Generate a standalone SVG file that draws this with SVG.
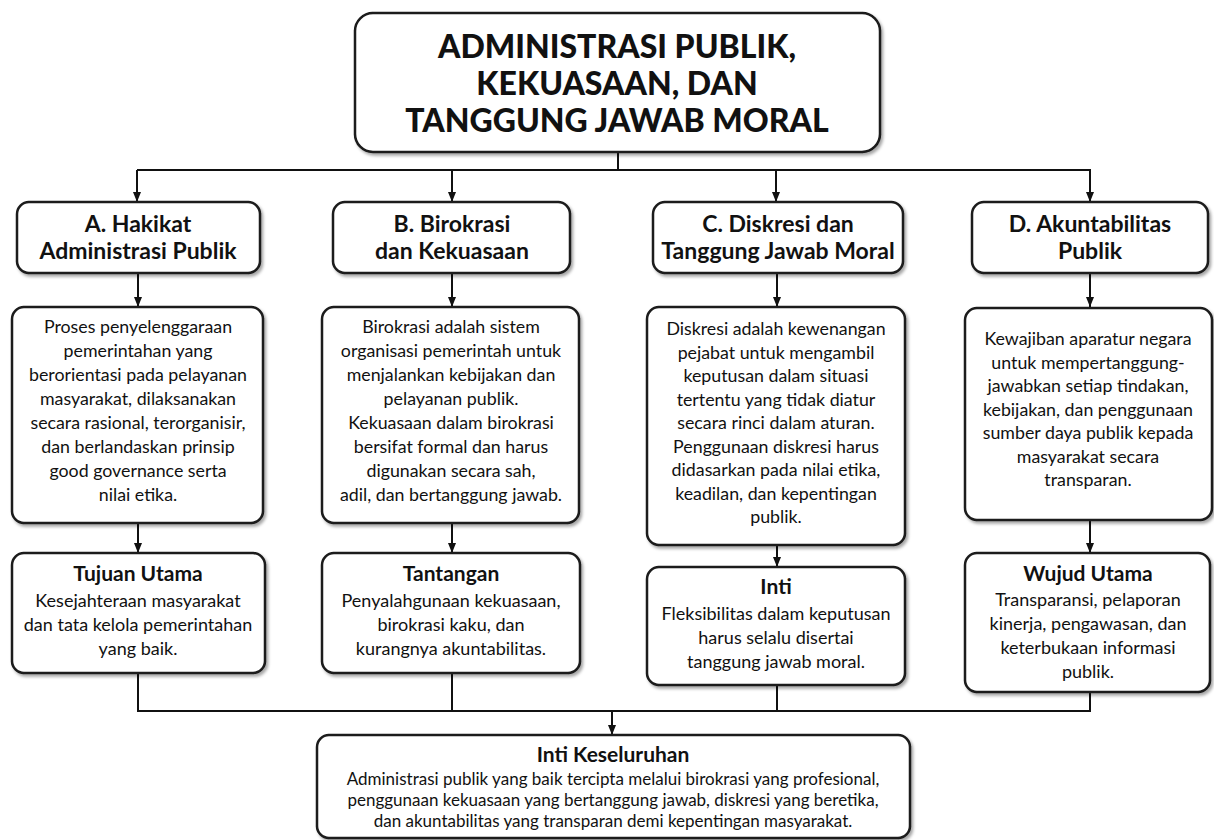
<svg xmlns="http://www.w3.org/2000/svg" width="1214" height="840" viewBox="0 0 1214 840">
<defs>
<filter id="sh" x="-5%" y="-5%" width="110%" height="115%">
<feDropShadow dx="2" dy="2.5" stdDeviation="1.5" flood-color="#000" flood-opacity="0.35"/>
</filter>
<marker id="ah" viewBox="0 0 10 10" refX="10" refY="5" markerWidth="10" markerHeight="10" markerUnits="userSpaceOnUse" orient="auto">
<path d="M0,1 L10,5 L0,9 z" fill="#111"/>
</marker>
<style>
.box{fill:#fff;stroke:#1a1a1a;stroke-width:2.5;filter:url(#sh)}
.ttl{font-family:Lato,"Liberation Sans",sans-serif;font-weight:900;font-size:32px;fill:#111;text-anchor:middle}
.hd{font-family:Lato,"Liberation Sans",sans-serif;font-weight:700;font-size:23px;fill:#111;text-anchor:middle}
.sh{font-family:Lato,"Liberation Sans",sans-serif;font-weight:700;font-size:21px;fill:#111;text-anchor:middle}
.tx{font-family:Lato,"Liberation Sans",sans-serif;font-size:17.8px;fill:#111;text-anchor:middle}
.tb{font-family:Lato,"Liberation Sans",sans-serif;font-size:18px;fill:#111;text-anchor:middle}
.ts{font-family:Lato,"Liberation Sans",sans-serif;font-size:17px;fill:#111;text-anchor:middle}
.ln{fill:none;stroke:#111;stroke-width:2}
.ar{fill:none;stroke:#111;stroke-width:2;marker-end:url(#ah)}
</style>
</defs>
<rect width="1214" height="840" fill="#fff"/>

<g id="connectors">
<path class="ln" d="M618,152 V170"/>
<path class="ln" d="M137,170 H1091"/>
<path class="ar" d="M137,170 V202"/>
<path class="ar" d="M452,170 V202"/>
<path class="ar" d="M776,170 V202"/>
<path class="ar" d="M1090,170 V202"/>
<path class="ar" d="M138,273 V307"/>
<path class="ar" d="M452,273 V307"/>
<path class="ar" d="M777,273 V307"/>
<path class="ar" d="M1090,273 V307"/>
<path class="ar" d="M138,523 V553"/>
<path class="ar" d="M452,523 V553"/>
<path class="ar" d="M777,545 V567"/>
<path class="ar" d="M1090,520 V553"/>
<path class="ln" d="M138,673 V711"/>
<path class="ln" d="M452,673 V711"/>
<path class="ln" d="M777,685 V711"/>
<path class="ln" d="M1090,692 V711"/>
<path class="ln" d="M137,711 H1091"/>
<path class="ar" d="M612,711 V735"/>
</g>

<g id="title">
<rect class="box" x="355" y="13" width="525" height="139" rx="18"/>
<text class="ttl" x="617" y="58">ADMINISTRASI PUBLIK,</text>
<text class="ttl" x="617" y="95">KEKUASAAN, DAN</text>
<text class="ttl" x="617" y="132">TANGGUNG JAWAB MORAL</text>
</g>

<g id="headerA">
<rect class="box" x="17" y="202" width="243" height="71" rx="12"/>
<text class="hd" x="138" y="232">A. Hakikat</text>
<text class="hd" x="138" y="259">Administrasi Publik</text>
</g>
<g id="headerB">
<rect class="box" x="333" y="202" width="237" height="71" rx="12"/>
<text class="hd" x="452" y="232">B. Birokrasi</text>
<text class="hd" x="452" y="259">dan Kekuasaan</text>
</g>
<g id="headerC">
<rect class="box" x="653" y="202" width="250" height="71" rx="12"/>
<text class="hd" x="778" y="232">C. Diskresi dan</text>
<text class="hd" x="778" y="259">Tanggung Jawab Moral</text>
</g>
<g id="headerD">
<rect class="box" x="972" y="202" width="236" height="71" rx="12"/>
<text class="hd" x="1090" y="232">D. Akuntabilitas</text>
<text class="hd" x="1090" y="259">Publik</text>
</g>

<g id="bodyA">
<rect class="box" x="12" y="307" width="251" height="216" rx="12"/>
<text class="tx" x="138" y="333">Proses penyelenggaraan</text>
<text class="tx" x="138" y="357">pemerintahan yang</text>
<text class="tx" x="138" y="381">berorientasi pada pelayanan</text>
<text class="tx" x="138" y="405">masyarakat, dilaksanakan</text>
<text class="tx" x="138" y="429">secara rasional, terorganisir,</text>
<text class="tx" x="138" y="453">dan berlandaskan prinsip</text>
<text class="tx" x="138" y="477">good governance serta</text>
<text class="tx" x="138" y="501">nilai etika.</text>
</g>
<g id="bodyB">
<rect class="box" x="322" y="307" width="257" height="216" rx="12"/>
<text class="tx" x="451" y="333">Birokrasi adalah sistem</text>
<text class="tx" x="451" y="357">organisasi pemerintah untuk</text>
<text class="tx" x="451" y="381">menjalankan kebijakan dan</text>
<text class="tx" x="451" y="405">pelayanan publik.</text>
<text class="tx" x="451" y="429">Kekuasaan dalam birokrasi</text>
<text class="tx" x="451" y="453">bersifat formal dan harus</text>
<text class="tx" x="451" y="477">digunakan secara sah,</text>
<text class="tx" x="451" y="501">adil, dan bertanggung jawab.</text>
</g>
<g id="bodyC">
<rect class="box" x="647" y="307" width="258" height="238" rx="12"/>
<text class="tx" x="776" y="335">Diskresi adalah kewenangan</text>
<text class="tx" x="776" y="358.5">pejabat untuk mengambil</text>
<text class="tx" x="776" y="382">keputusan dalam situasi</text>
<text class="tx" x="776" y="405.5">tertentu yang tidak diatur</text>
<text class="tx" x="776" y="429">secara rinci dalam aturan.</text>
<text class="tx" x="776" y="452.5">Penggunaan diskresi harus</text>
<text class="tx" x="776" y="476">didasarkan pada nilai etika,</text>
<text class="tx" x="776" y="499.5">keadilan, dan kepentingan</text>
<text class="tx" x="776" y="523">publik.</text>
</g>
<g id="bodyD">
<rect class="box" x="965" y="308" width="247" height="212" rx="12"/>
<text class="tx" x="1088" y="345">Kewajiban aparatur negara</text>
<text class="tx" x="1088" y="368.5">untuk mempertanggung-</text>
<text class="tx" x="1088" y="392">jawabkan setiap tindakan,</text>
<text class="tx" x="1088" y="415.5">kebijakan, dan penggunaan</text>
<text class="tx" x="1088" y="439">sumber daya publik kepada</text>
<text class="tx" x="1088" y="462.5">masyarakat secara</text>
<text class="tx" x="1088" y="486">transparan.</text>
</g>

<g id="bottomA">
<rect class="box" x="12" y="553" width="253" height="120" rx="12"/>
<text class="sh" x="138" y="581">Tujuan Utama</text>
<text class="tb" x="138" y="607">Kesejahteraan masyarakat</text>
<text class="tb" x="138" y="631">dan tata kelola pemerintahan</text>
<text class="tb" x="138" y="655">yang baik.</text>
</g>
<g id="bottomB">
<rect class="box" x="322" y="553" width="258" height="120" rx="12"/>
<text class="sh" x="451" y="581">Tantangan</text>
<text class="tb" x="451" y="607">Penyalahgunaan kekuasaan,</text>
<text class="tb" x="451" y="631">birokrasi kaku, dan</text>
<text class="tb" x="451" y="655">kurangnya akuntabilitas.</text>
</g>
<g id="bottomC">
<rect class="box" x="647" y="567" width="258" height="118" rx="12"/>
<text class="sh" x="776" y="594">Inti</text>
<text class="tb" x="776" y="620">Fleksibilitas dalam keputusan</text>
<text class="tb" x="776" y="644">harus selalu disertai</text>
<text class="tb" x="776" y="668">tanggung jawab moral.</text>
</g>
<g id="bottomD">
<rect class="box" x="965" y="553" width="245" height="139" rx="12"/>
<text class="sh" x="1088" y="581">Wujud Utama</text>
<text class="tb" x="1088" y="606">Transparansi, pelaporan</text>
<text class="tb" x="1088" y="630">kinerja, pengawasan, dan</text>
<text class="tb" x="1088" y="654">keterbukaan informasi</text>
<text class="tb" x="1088" y="678">publik.</text>
</g>

<g id="summary">
<rect class="box" x="317" y="735" width="593" height="103" rx="12"/>
<text class="sh" x="613" y="762">Inti Keseluruhan</text>
<text class="ts" x="613" y="785">Administrasi publik yang baik tercipta melalui birokrasi yang profesional,</text>
<text class="ts" x="613" y="806">penggunaan kekuasaan yang bertanggung jawab, diskresi yang beretika,</text>
<text class="ts" x="613" y="827">dan akuntabilitas yang transparan demi kepentingan masyarakat.</text>
</g>
</svg>
